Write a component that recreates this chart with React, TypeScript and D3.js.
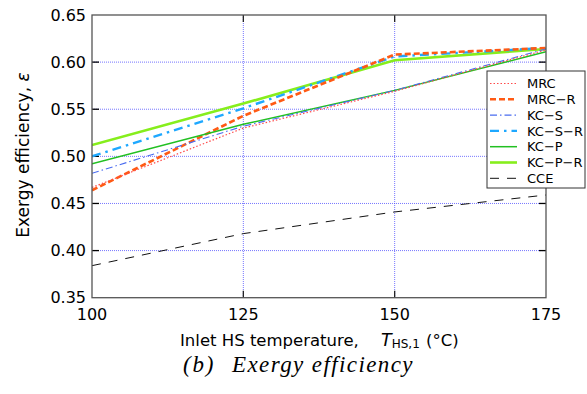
import React from "react";
import * as d3 from "d3";

const temps = [100, 125, 150, 175];
const mrc = [0.467, 0.53, 0.569, 0.613];
const mrcR = [0.464, 0.543, 0.608, 0.615];
const kcS = [0.482, 0.532, 0.570, 0.614];
const kcSR = [0.5, 0.551, 0.606, 0.615];
const kcP = [0.492, 0.534, 0.570, 0.611];
const kcPR = [0.512, 0.556, 0.602, 0.614];
const cce = [0.384, 0.418, 0.441, 0.459];
const xTicks = [100, 125, 150, 175];
const yTicks = [0.35, 0.4, 0.45, 0.5, 0.55, 0.6, 0.65];

const seriesNames = ["MRC", "MRC\u2212R", "KC\u2212S", "KC\u2212S\u2212R", "KC\u2212P", "KC\u2212P\u2212R", "CCE"];
const seriesValues = [mrc, mrcR, kcS, kcSR, kcP, kcPR, cce];
const styles = [
  { color: "#ff4a4a", width: 1.2, dash: "1.5,2" },
  { color: "#ff5a14", width: 2.6, dash: "6,3" },
  { color: "#4a6cf0", width: 1.1, dash: "7,3,1.5,3" },
  { color: "#1ea8ff", width: 2.4, dash: "9,5,2.5,5" },
  { color: "#22c022", width: 1.5, dash: "" },
  { color: "#86ee1c", width: 2.6, dash: "" },
  { color: "#111111", width: 1, dash: "9,8" },
];

export default function App() {
  const W = 587, H = 394;
  const L = 92, R = 546, T = 15, B = 297.7;
  const x = d3.scaleLinear().domain([100, 175]).range([L, R]);
  const y = d3.scaleLinear().domain([0.35, 0.65]).range([B, T]);
  const line = d3.line<number>().x((_, i) => x(temps[i])).y((v) => y(v));
  const font = "'DejaVu Sans', sans-serif";
  const serif = "'Liberation Serif', 'Times New Roman', serif";
  const grid = "#4a4aff";

  const order = [5, 3, 1, 4, 2, 0, 6];

  const legX = 487, legY = 71, legW = 98, legH = 117;
  const rowY = (i: number) => 83.5 + i * 15.8;

  return (
    <svg width={W} height={H} style={{ position: "absolute", left: 0, top: 0, background: "#fff" }}>
      <defs>
        <clipPath id="plot">
          <rect x={L} y={T} width={R - L} height={B - T} />
        </clipPath>
      </defs>
      {yTicks.slice(1, -1).map((t) => (
        <line key={"gy" + t} x1={L} x2={R} y1={y(t)} y2={y(t)} stroke={grid} strokeWidth={1} strokeDasharray="1,1" opacity={0.75} />
      ))}
      {xTicks.slice(1, -1).map((t) => (
        <line key={"gx" + t} x1={x(t)} x2={x(t)} y1={T} y2={B} stroke={grid} strokeWidth={1} strokeDasharray="1,1" opacity={0.75} />
      ))}
      {yTicks.slice(1, -1).map((t) => (
        <g key={"ty" + t}>
          <line x1={L} x2={L + 7} y1={y(t)} y2={y(t)} stroke="#000" strokeWidth={1.3} />
          <line x1={R - 7} x2={R} y1={y(t)} y2={y(t)} stroke="#000" strokeWidth={1.3} />
        </g>
      ))}
      {xTicks.slice(1, -1).map((t) => (
        <g key={"tx" + t}>
          <line x1={x(t)} x2={x(t)} y1={B - 7} y2={B} stroke="#222" strokeWidth={1.3} />
          <line x1={x(t)} x2={x(t)} y1={T} y2={T + 7} stroke="#222" strokeWidth={1.3} />
        </g>
      ))}
      <g clipPath="url(#plot)">
        {order.map((k) => (
          <path
            key={seriesNames[k]}
            d={line(seriesValues[k]) || ""}
            fill="none"
            stroke={styles[k].color}
            strokeWidth={styles[k].width}
            strokeDasharray={styles[k].dash || undefined}
          />
        ))}
      </g>
      <rect x={L} y={T} width={R - L} height={B - T} fill="none" stroke="#555" strokeWidth={1.3} />
      {yTicks.map((t) => (
        <text key={"ly" + t} x={86} y={y(t)} dy="0.36em" textAnchor="end" fontFamily={font} fontSize={16} fill="#000">
          {t.toFixed(2)}
        </text>
      ))}
      {xTicks.map((t) => (
        <text key={"lx" + t} x={x(t)} y={320} textAnchor="middle" fontFamily={font} fontSize={16} fill="#000">
          {t}
        </text>
      ))}
      <text x={180} y={345.5} textAnchor="start" fontFamily={font} fontSize={16.5} fill="#000">
        Inlet HS temperature,
        <tspan x={381} fontStyle="italic" fontSize={17.5}>T</tspan>
        <tspan fontSize={12} dy={2.5}>HS,1</tspan>
        <tspan x={426} dy={-2.5}>(°C)</tspan>
      </text>
      <text
        transform={`translate(29,155) rotate(-90)`}
        textAnchor="middle"
        fontFamily={font}
        fontSize={17}
        fill="#000"
      >
        Exergy efficiency, <tspan fontStyle="italic">ε</tspan>
      </text>
      <text x={183} y={371.5} fontFamily={serif} fontStyle="italic" fontSize={23} letterSpacing={1.8} fill="#000">
        (b)
      </text>
      <text x={232} y={371.5} fontFamily={serif} fontStyle="italic" fontSize={23} letterSpacing={1.4} fill="#000">
        Exergy efficiency
      </text>
      <rect x={legX} y={legY} width={legW} height={legH} fill="#fff" stroke="#333" strokeWidth={1} />
      {seriesNames.map((n, i) => (
        <g key={"leg" + n}>
          <line
            x1={490}
            x2={517}
            y1={rowY(i)}
            y2={rowY(i)}
            stroke={styles[i].color}
            strokeWidth={styles[i].width}
            strokeDasharray={styles[i].dash || undefined}
          />
          <text x={527} y={rowY(i)} dy="0.36em" fontFamily={font} fontSize={13} fill="#000">
            {n}
          </text>
        </g>
      ))}
    </svg>
  );
}
